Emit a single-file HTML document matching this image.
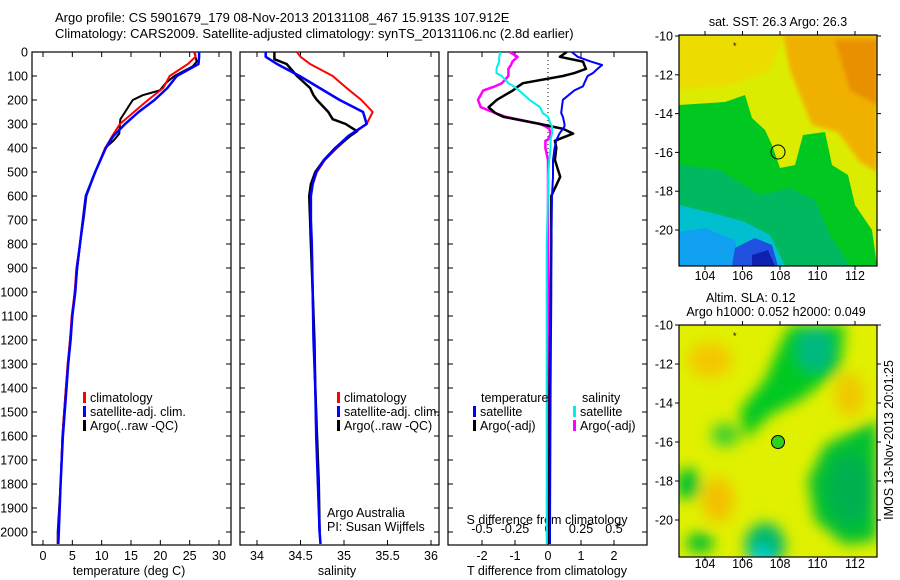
<!DOCTYPE html>
<html><head><meta charset="utf-8">
<style>
html,body{margin:0;padding:0;background:#fff;}
svg{display:block;font-family:"Liberation Sans",sans-serif;}
text{font-size:12.5px;fill:#000;}
</style></head>
<body>
<svg id="s" width="900" height="580" viewBox="0 0 900 580">
<defs>
<filter id="bl" x="-20%" y="-20%" width="140%" height="140%"><feGaussianBlur stdDeviation="7"/></filter>
<filter id="bl2" x="-20%" y="-20%" width="140%" height="140%"><feGaussianBlur stdDeviation="2"/></filter>
<clipPath id="c1"><rect x="679" y="35" width="198" height="231"/></clipPath>
<clipPath id="c2"><rect x="679" y="325" width="198" height="232"/></clipPath>
</defs>
<text x="55" y="22" style="font-size:13px">Argo profile: CS 5901679_179 08-Nov-2013 20131108_467 15.913S 107.912E</text>
<text x="55" y="38" style="font-size:13px">Climatology: CARS2009. Satellite-adjusted climatology: synTS_20131106.nc (2.8d earlier)</text>

<!-- map 1 -->
<g clip-path="url(#c1)">
<rect x="679" y="35" width="198" height="231" fill="#dcec00"/>
<polygon points="679,35 785,35 770,70 730,85 679,90" fill="#ecdc00" filter="url(#bl2)"/>
<polygon points="783,35 877,35 877,172 860,162 838,132 812,125 802,100 790,70" fill="#f0b000" filter="url(#bl2)"/>
<polygon points="835,40 877,40 877,105 850,90" fill="#e89000" filter="url(#bl2)"/>
<polygon points="679,105 725,102 745,95 752,118 765,130 772,145 780,168 795,165 803,135 825,132 832,165 848,175 855,205 872,230 877,266 679,266" fill="#00c820"/>
<polygon points="679,165 720,170 760,195 790,188 815,200 830,235 850,266 679,266" fill="#00b860"/>
<polygon points="679,205 720,215 745,222 770,235 785,266 679,266" fill="#00c0d0"/>
<polygon points="679,232 705,228 735,240 740,266 679,266" fill="#10a0f0"/>
<polygon points="735,248 755,238 772,245 778,266 732,266" fill="#2050e0"/>
<polygon points="752,255 768,250 775,266 752,266" fill="#1020b0"/>
<circle cx="778" cy="152" r="7" fill="none" stroke="#000" stroke-width="1"/>
<text x="733" y="49" style="font-size:9px">*</text>
</g>
<rect x="679" y="35" width="198" height="231" fill="none" stroke="#000" stroke-width="1.2"/>
<text x="778" y="26" text-anchor="middle">sat. SST: 26.3 Argo: 26.3</text>

<!-- map 2 -->
<g clip-path="url(#c2)">
<rect x="679" y="325" width="198" height="232" fill="#e0f000"/>
<g filter="url(#bl)">
<ellipse cx="710" cy="360" rx="22" ry="18" fill="#f4c800"/>
<ellipse cx="718" cy="500" rx="16" ry="22" fill="#f4c000"/>
<ellipse cx="850" cy="395" rx="15" ry="22" fill="#f0c800"/>
<polygon points="790,325 845,325 840,370 800,400 770,415 745,440 740,410 765,380 780,345" fill="#00c820"/>
<ellipse cx="815" cy="350" rx="18" ry="22" fill="#00b880"/>
<ellipse cx="725" cy="435" rx="14" ry="12" fill="#40d030"/>
<polygon points="825,445 877,420 877,540 845,545 815,520 808,480" fill="#00c030"/>
<ellipse cx="850" cy="490" rx="22" ry="35" fill="#00b050"/>
<ellipse cx="688" cy="484" rx="12" ry="16" fill="#00c030"/>
<ellipse cx="700" cy="543" rx="14" ry="10" fill="#00c030"/>
<ellipse cx="765" cy="545" rx="20" ry="22" fill="#00b870"/>
<ellipse cx="762" cy="557" rx="10" ry="10" fill="#00d0e0"/>
</g>
<circle cx="778" cy="442" r="6.5" fill="#30d020" stroke="#000" stroke-width="1"/>
<text x="733" y="339" style="font-size:9px">*</text>
</g>
<rect x="679" y="325" width="198" height="232" fill="none" stroke="#000" stroke-width="1.2"/>
<text x="706" y="302">Altim. SLA: 0.12</text>
<text x="776" y="316" text-anchor="middle">Argo h1000: 0.052 h2000: 0.049</text>
<text transform="translate(893,440) rotate(-90)" text-anchor="middle">IMOS 13-Nov-2013 20:01:25</text>

<g id="g"></g>
</svg>
<script>
// ---- data ----
const depthT = [0,20,50,100,150,200,250,300,350,400,500,600,700,800,900,1000,1100,1200,1300,1400,1600,1800,2000,2050];
const tempClim = [25.9,26.0,24.7,21.6,20.5,17.9,15.5,13.1,11.8,10.6,8.9,7.3,6.8,6.3,5.7,5.4,4.9,4.6,4.2,3.9,3.3,3.0,2.6,2.5];
const tempSat  = [26.6,26.6,26.5,22.8,21.2,19.0,16.3,14.0,12.0,10.7,8.9,7.3,6.8,6.3,5.8,5.5,5.0,4.7,4.3,4.0,3.4,3.0,2.7,2.6];
const depthTA = [0,20,40,60,100,130,160,180,200,230,250,280,300,340,370,400,500,600,700,800,1000,1200,1400,1600,1800,2000,2050];
const tempArgo = [25.8,26.0,26.2,25.5,22.4,20.9,19.9,17.0,15.3,14.5,14.0,13.2,13.1,13.0,12.0,10.6,8.9,7.4,6.9,6.3,5.4,4.6,3.9,3.3,3.0,2.5,2.5];
const depthS = [0,20,50,100,150,200,250,300,350,400,450,500,550,600,700,800,1000,1200,1400,1600,1800,2000,2050];
const salClim = [34.46,34.50,34.61,34.87,35.03,35.20,35.33,35.26,35.07,34.92,34.78,34.69,34.64,34.62,34.62,34.63,34.64,34.65,34.67,34.68,34.70,34.72,34.73];
const salSat  = [34.10,34.10,34.23,34.49,34.72,34.95,35.22,35.26,35.05,34.90,34.77,34.68,34.64,34.62,34.62,34.63,34.64,34.65,34.67,34.68,34.70,34.72,34.73];
const depthSA = [0,30,50,100,150,180,200,250,280,300,330,350,400,450,500,550,600,700,800,1000,1200,1400,1600,1800,2000];
const salArgo = [34.20,34.20,34.34,34.46,34.61,34.65,34.69,34.82,34.87,35.02,35.15,35.07,34.90,34.77,34.67,34.62,34.60,34.61,34.62,34.64,34.66,34.67,34.69,34.71,34.72];
const depthD = [0,20,40,54,70,88,100,130,143,160,199,230,254,270,300,310,320,340,365,370,400,450,520,600,800,1000,1400,2000,2050];
const tDiffSat  = [0.72,0.9,1.3,1.64,1.5,1.36,1.2,1.1,1.06,0.8,0.45,0.42,0.4,0.45,0.5,0.5,0.45,0.35,0.26,0.25,0.2,0.15,0.15,0.12,0.1,0.1,0.08,0.06,0.06];
const tDiffArgo = [0.57,0.36,1.06,1.1,1.15,0.8,0.45,-0.76,-0.9,-1.06,-1.55,-1.8,-1.6,-1.36,-0.24,0.1,0.45,0.76,0.3,0.21,0.25,0.21,0.37,0.1,0.1,0.08,0.05,0.04,0.04];
const sDiffSat  = [-0.36,-0.37,-0.37,-0.38,-0.39,-0.39,-0.35,-0.3,-0.26,-0.22,-0.14,-0.06,-0.04,0,0.02,0.03,0.03,0.03,0.02,0.02,0.02,0.01,0.0,0.0,-0.01,-0.01,-0.01,-0.01,-0.01];
const sDiffArgo = [-0.29,-0.23,-0.27,-0.28,-0.3,-0.3,-0.3,-0.35,-0.4,-0.49,-0.53,-0.51,-0.4,-0.32,-0.06,-0.02,0.01,0.02,0.0,-0.02,-0.02,0.0,0.0,0.0,0.0,0.0,0.0,0.0,0.0];
const depthTicks = [0,100,200,300,400,500,600,700,800,900,1000,1100,1200,1300,1400,1500,1600,1700,1800,1900,2000];
const tempTicks = [0,5,10,15,20,25,30];
const salTicks = [34,34.5,35,35.5,36];
const tDiffTicks = [-2,-1,0,1,2];
const sDiffTicks = [-0.5,-0.25,0,0.25,0.5];
const latTicks = [-10,-12,-14,-16,-18,-20];
const lonTicks = [104,106,108,110,112];

// ---- axes ----
const NS='http://www.w3.org/2000/svg', G=document.getElementById('g');
const yD = d => 52 + d*0.24;
const xT = v => 43 + v*5.867;
const xS = v => 257 + (v-34)*87;
const xTd = v => 548 + v*33;
const xSd = v => 548 + v*132;
const yLat1 = v => 36 + (-10 - v)*19.4;
const yLat2 = v => 325 + (-10 - v)*19.5;
const xLon = v => 705 + (v-104)*18.75;
function mk(tag, attrs, parent){const e=document.createElementNS(NS,tag);for(const k in attrs)e.setAttribute(k,attrs[k]);(parent||G).appendChild(e);return e;}
function txt(x,y,s,anchor){const e=mk('text',{x:x,y:y,'text-anchor':anchor||'start'});e.textContent=s;return e;}
function line(xs,ys,color,w,name){
  let p=xs.map((x,i)=>x.toFixed(1)+','+ys[i].toFixed(1)).join(' ');
  const e=mk('polyline',{points:p,fill:'none',stroke:color,'stroke-width':w,'stroke-linejoin':'round'});
  
  
}
const panels=[[32,231],[240,439],[448,647]];
panels.forEach((p,i)=>{
  const r=mk('rect',{x:p[0],y:52,width:p[1]-p[0],height:493,fill:'none',stroke:'#000','stroke-width':1.2});
  
  
});
depthTicks.forEach(d=>{
  const y=yD(d);
  panels.forEach(p=>{mk('line',{x1:p[0],x2:p[0]+5,y1:y,y2:y,stroke:'#000'});mk('line',{x1:p[1]-5,x2:p[1],y1:y,y2:y,stroke:'#000'});});
  const t=txt(28,y+4.5,String(d),'end');
  
  
});
function xticks(arr,fx,yb,label){
  arr.forEach(v=>{const x=fx(v);mk('line',{x1:x,x2:x,y1:yb-5,y2:yb,stroke:'#000'});mk('line',{x1:x,x2:x,y1:52,y2:57,stroke:'#000'});
   const t=txt(x,label,String(v),'middle');
   
   });
}
xticks(tempTicks,xT,545,560);
xticks(salTicks,xS,545,560);
xticks(tDiffTicks,xTd,545,560);
sDiffTicks.forEach(v=>{const x=xSd(v);mk('line',{x1:x,x2:x,y1:540,y2:545,stroke:'#000'});
  const t=txt(x,533,String(v),'middle');
  
  });
[[129,'temperature (deg C)','temp-axis-title'],[337,'salinity','salinity-axis-title'],[547,'T difference from climatology','t-diff-axis-title']].forEach(a=>{const t=txt(a[0],575,a[1],'middle');});
{const t=txt(547,524,'S difference from climatology','middle');}
mk('line',{x1:548,x2:548,y1:52,y2:200,stroke:'#000','stroke-dasharray':'1,3'});

// series
line(tempArgo.map(xT),depthTA.map(yD),'#000',2,'temp-argo-line');
line(tempClim.map(xT),depthT.map(yD),'#f00',2,'temp-climatology-line');
line(tempSat.map(xT),depthT.map(yD),'#00f',2.5,'temp-satellite-line');
line(salClim.map(xS),depthS.map(yD),'#f00',2,'salinity-climatology-line');
line(salArgo.map(xS),depthSA.map(yD),'#000',2.5,'salinity-argo-line');
line(salSat.map(xS),depthS.map(yD),'#00f',2.5,'salinity-satellite-line');
line(sDiffArgo.map(xSd),depthD.map(yD),'#f0f',2.5,'s-diff-argo-line');
line(tDiffArgo.map(xTd),depthD.map(yD),'#000',2.5,'t-diff-argo-line');
line(tDiffSat.map(xTd),depthD.map(yD),'#00f',2,'t-diff-satellite-line');
line(sDiffSat.map(xSd),depthD.map(yD),'#0ee',2,'s-diff-satellite-line');

// legends
function leg(x,y,color,label,name){
  mk('rect',{x:x,y:y-10,width:3,height:11,fill:color});
  const t=txt(x+7,y,label);
  
  
}
leg(83,402,'#f00','climatology','legend-climatology');
leg(83,416,'#00f','satellite-adj. clim.','legend-satellite-adj');
leg(83,430,'#000','Argo(..raw -QC)','legend-argo');
leg(337,402,'#f00','climatology','legend-climatology-2');
leg(337,416,'#00f','satellite-adj. clim.','legend-satellite-adj-2');
leg(337,430,'#000','Argo(..raw -QC)','legend-argo-2');
{const t=txt(481,402,'temperature');}
{const t=txt(582,402,'salinity');}
leg(473,416,'#00f','satellite','legend-t-satellite');
leg(473,430,'#000','Argo(-adj)','legend-t-argo');
leg(573,416,'#0ee','satellite','legend-s-satellite');
leg(573,430,'#f0f','Argo(-adj)','legend-s-argo');
{const t=txt(327,517,'Argo Australia');}
{const t=txt(327,531,'PI: Susan Wijffels');}

// map axes
[[yLat1,35,266,280],[yLat2,325,557,568]].forEach(m=>{
  latTicks.forEach(v=>{const y=m[0](v);mk('line',{x1:675,x2:679,y1:y,y2:y,stroke:'#000'});mk('line',{x1:877,x2:881,y1:y,y2:y,stroke:'#000'});
    const t=txt(673,y+4.5,String(v),'end');});
  lonTicks.forEach(v=>{const x=xLon(v);mk('line',{x1:x,x2:x,y1:m[2],y2:m[2]+4,stroke:'#000'});mk('line',{x1:x,x2:x,y1:m[1]-4,y2:m[1],stroke:'#000'});
    const t=txt(x,m[3],String(v),'middle');});
});
</script>
</body></html>
